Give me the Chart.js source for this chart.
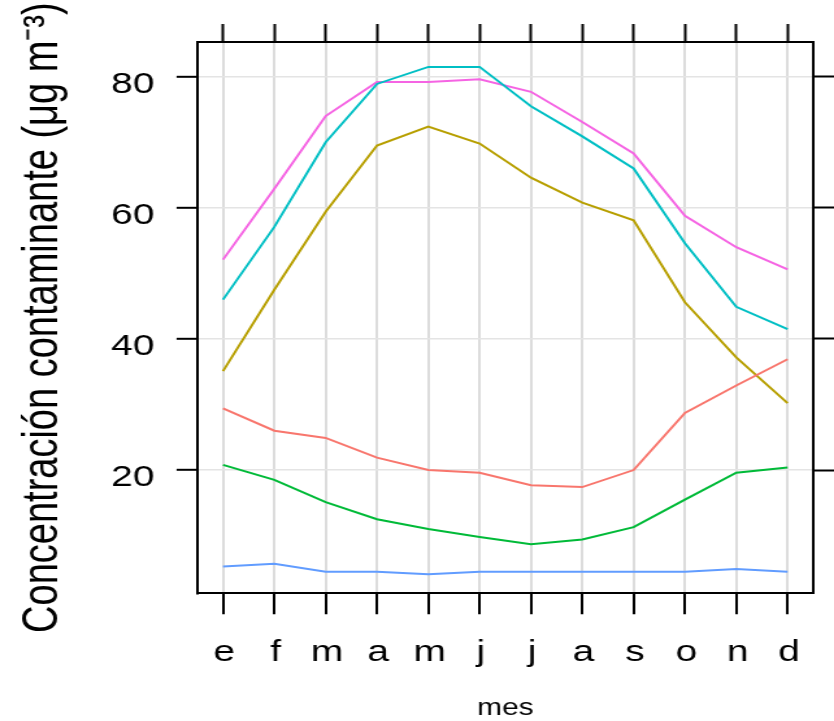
<!DOCTYPE html>
<html>
<head>
<meta charset="utf-8">
<script src="https://cdn.jsdelivr.net/npm/chart.js@4.4.1/dist/chart.umd.min.js"></script>
<style>
  html, body { margin: 0; padding: 0; background: #fff; overflow: hidden; }
  /* la figura original está estirada en horizontal */
  #lienzo { width: 642px; height: 721px; transform: scaleX(1.2991); transform-origin: 0 0; }
</style>
</head>
<body>
<div id="lienzo"><canvas id="grafico" width="642" height="721"></canvas></div>
<script>
// Datos: concentración media mensual de cada serie
const meses = ["e", "f", "m", "a", "m", "j", "j", "a", "s", "o", "n", "d"];
const serieRoja    = [29.4, 26.0, 24.9, 21.9, 20.0, 19.6, 17.7, 17.4, 20.0, 28.7, 32.9, 36.9];
const serieOliva   = [35.1, 47.5, 59.4, 69.5, 72.4, 69.8, 64.6, 60.8, 58.1, 45.6, 37.2, 30.2];
const serieVerde   = [20.8, 18.5, 15.1, 12.5, 11.0, 9.8, 8.7, 9.4, 11.3, 15.5, 19.6, 20.4];
const serieCian    = [46.0, 57.1, 70.0, 78.9, 81.5, 81.5, 75.5, 70.9, 66.0, 54.6, 44.9, 41.5];
const serieAzul    = [5.3, 5.7, 4.5, 4.5, 4.1, 4.5, 4.5, 4.5, 4.5, 4.5, 4.9, 4.5];
const serieMagenta = [52.1, 62.9, 74.0, 79.2, 79.2, 79.6, 77.7, 73.1, 68.3, 58.8, 54.0, 50.6];
const marcasY = [20, 40, 60, 80];
const yMin = 1.2, yMax = 85.3;

const fuente = "'Liberation Sans', Arial, Helvetica, sans-serif";
const borde = { display: true, color: "#000", width: 2 };

function fijarMarcasY(scale) {
    scale.ticks = marcasY.map(v => ({ value: v }));
}

function serie(nombre, datos, color) {
    return { label: nombre, data: datos, borderColor: color, backgroundColor: color,
             borderWidth: 2, pointRadius: 0, tension: 0, fill: false };
}

new Chart(document.getElementById("grafico"), {
    type: "line",
    data: {
        labels: meses,
        datasets: [
            serie("Serie 1", serieRoja, "#F8766D"),
            serie("Serie 2", serieOliva, "#B79F00"),
            serie("Serie 3", serieVerde, "#00BA38"),
            serie("Serie 4", serieCian, "#00BFC4"),
            serie("Serie 5", serieAzul, "#619CFF"),
            serie("Serie 6", serieMagenta, "#F564E3")
        ]
    },
    options: {
        responsive: false,
        animation: false,
        layout: { padding: 0 },
        plugins: { legend: { display: false }, tooltip: { enabled: false } },
        scales: {
            x: {
                type: "category", position: "bottom", offset: true,
                grid: { color: "#dcdcdc", lineWidth: 2, tickLength: 21, tickColor: "#000", tickWidth: 2 },
                border: borde,
                ticks: { color: "#000", font: { family: fuente, size: 30 }, padding: 20,
                         autoSkip: false, maxRotation: 0, labelOffset: 1 },
                title: { display: true, text: "mes", color: "#000",
                         font: { family: fuente, size: 23, lineHeight: 1 }, padding: { top: 0, bottom: 1 } },
                afterFit: s => { s.height = 127.7; }
            },
            x2: {
                type: "category", position: "top", offset: true,
                grid: { drawOnChartArea: false, tickLength: 18, tickColor: "#000", tickWidth: 2 },
                border: borde,
                ticks: { display: false },
                afterFit: s => { s.height = 42; }
            },
            y: {
                type: "linear", position: "left", min: yMin, max: yMax,
                afterBuildTicks: fijarMarcasY,
                grid: { color: "#e4e4e4", lineWidth: 1.6, tickLength: 16, tickColor: "#000", tickWidth: 2 },
                border: borde,
                ticks: { color: "#000", font: { family: fuente, size: 30 }, padding: 17, labelOffset: 8 },
                title: { display: true, text: "Concentración contaminante (μg m\u207B\u00B3)", color: "#000",
                         font: { family: fuente, size: 38, lineHeight: 1 }, padding: { top: 15, bottom: 0 } },
                afterFit: s => { s.width = 151.9; }
            },
            y2: {
                type: "linear", position: "right", min: yMin, max: yMax,
                afterBuildTicks: fijarMarcasY,
                grid: { drawOnChartArea: false, tickLength: 16, tickColor: "#000", tickWidth: 2 },
                border: borde,
                ticks: { display: false },
                afterFit: s => { s.width = 16; }
            }
        }
    }
});
</script>
</body>
</html>
